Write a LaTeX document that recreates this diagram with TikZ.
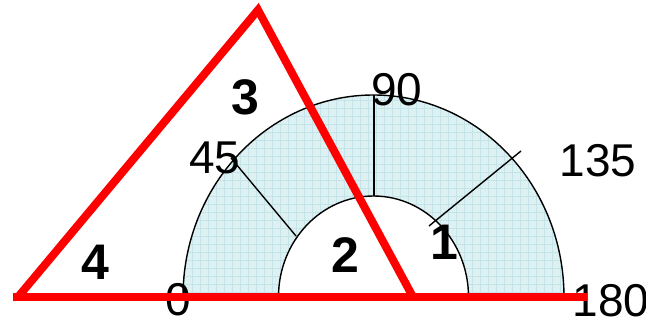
\documentclass[tikz,border=0pt]{standalone}
\usepackage{fontspec}
\setmainfont{Liberation Sans}
\definecolor{ringfill}{RGB}{221,240,242}
\definecolor{ringgrid}{RGB}{196,228,233}
\definecolor{tri}{RGB}{255,0,0}
\begin{document}
\begin{tikzpicture}[x=1pt,y=1pt,
  num/.style={inner sep=0pt,font=\fontsize{46}{46}\selectfont},
  region/.style={inner sep=0pt,font=\fontsize{50}{50}\selectfont\bfseries},
  tick/.style={black,line width=1.4pt},
  rim/.style={black,line width=1.4pt},
  redline/.style={tri,line width=8pt,line join=miter}]
\useasboundingbox (0,0) rectangle (646,324);
% ring
\def\ringpath{(183,27) arc[start angle=180,end angle=0,x radius=190.5,y radius=202] -- (468.5,27) arc[start angle=0,end angle=180,x radius=95,y radius=101] -- cycle}
\fill[ringfill] \ringpath;
\begin{scope}
\clip \ringpath;
\draw[ringgrid,line width=0.6pt] (180,20) grid[step=8] (570,232);
\end{scope}
\draw[rim] (183,27) arc[start angle=180,end angle=0,x radius=190.5,y radius=202];
\draw[rim] (278.5,27) arc[start angle=180,end angle=0,x radius=95,y radius=101];
% ticks
\coordinate (t90a) at (374,128); \coordinate (t90b) at (374,229);
\coordinate (t45a) at (296,88); \coordinate (t45b) at (231,166);
\coordinate (t135a) at (429,98); \coordinate (t135b) at (521,173);
\draw[tick] (t90a) -- (t90b);
\draw[tick] (t45a) -- (t45b);
\draw[tick] (t135a) -- (t135b);
% scale labels
\node[num] (l0) at (178,24) {0};
\node[num] (l45) at (215,166) {45};
\node[num] (l90) at (397,234) {90};
\node[num] (l135) at (598,163) {135};
\node[num] (l180) at (611,23) {180};
% region labels
\node[region] (r1) at (444,82) {1};
\node[region] (r2) at (345,69) {2};
\node[region] (r3) at (245,227) {3};
\node[region] (r4) at (95,62) {4};
% triangle
\coordinate (A) at (18,27);
\coordinate (B) at (258,314);
\coordinate (C) at (413,27);
\coordinate (L) at (13,27);
\coordinate (R) at (587,27);
\draw[redline] (A) -- (B) -- (C);
\draw[redline] (L) -- (R);
\end{tikzpicture}
\end{document}
